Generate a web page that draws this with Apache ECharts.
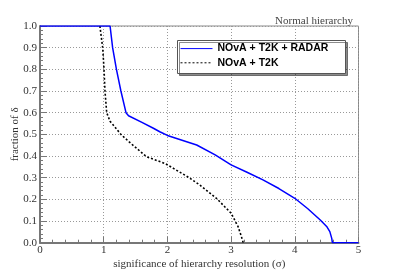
<!DOCTYPE html>
<html><head><meta charset="utf-8">
<script src="https://cdn.jsdelivr.net/npm/echarts@6/dist/echarts.min.js"></script>
<style>html,body{margin:0;padding:0;background:#fff}#c{width:399px;height:270px}</style>
</head><body><div id="c"></div>
<script>
const blueX = [0, 1.10, 1.14, 1.20, 1.27, 1.35, 1.39, 1.60, 1.78, 1.88, 2.00, 2.46, 2.75, 3.00, 3.25, 3.50, 3.75, 4.00, 4.20, 4.40, 4.50, 4.55, 4.58, 4.59, 5.00];
const blueY = [1.0, 1.0, 0.9, 0.8, 0.7, 0.6, 0.586, 0.555, 0.528, 0.512, 0.495, 0.451, 0.405, 0.359, 0.325, 0.29, 0.25, 0.205, 0.158, 0.105, 0.075, 0.051, 0.02, 0.0, 0.0];
const blackX = [0.94, 0.984, 1.005, 1.02, 1.047, 1.10, 1.15, 1.20, 1.27, 1.40, 1.67, 1.96, 2.10, 2.33, 2.51, 2.77, 3.00, 3.11, 3.16, 3.19];
const blackY = [1.0, 0.9, 0.8, 0.7, 0.6, 0.56, 0.543, 0.525, 0.50, 0.465, 0.397, 0.366, 0.342, 0.302, 0.266, 0.205, 0.136, 0.074, 0.03, 0.0];
const seriesNames = ['NOvA + T2K + RADAR', 'NOvA + T2K'];
const titleText = 'Normal hierarchy';
const xName = 'significance of hierarchy resolution (σ)';
const yName = 'fraction of δ';

const chart = echarts.init(document.getElementById('c'), null, {renderer: 'canvas'});
const serif = 'Liberation Serif';
const zip = (a, b) => a.map((v, i) => [v, b[i]]);
chart.setOption({
  animation: false,
  backgroundColor: '#fff',
  title: {
    text: titleText, right: 41, top: 11,
    textStyle: {fontFamily: serif, fontSize: 11, fontWeight: 'normal', color: '#444'}
  },
  grid: {left: 40, right: 40.5, top: 26, bottom: 27.3, containLabel: false, outerBoundsMode: 'none', show: true, borderColor: '#888', borderWidth: 1},
  xAxis: {
    type: 'value', min: 0, max: 5, interval: 1,
    name: xName, nameLocation: 'middle', nameGap: 16, nameMoveOverlap: false,
    nameTextStyle: {fontFamily: serif, fontSize: 11, color: '#333'},
    axisLine: {show: true, onZero: false, lineStyle: {color: '#777', width: 2}},
    axisTick: {show: true, inside: true, length: 6, lineStyle: {color: '#777'}},
    minorTick: {show: true, splitNumber: 5, length: 3, lineStyle: {color: '#777'}},
    axisLabel: {fontFamily: serif, fontSize: 11, color: '#333', margin: 2},
    splitLine: {show: true, lineStyle: {color: '#999', type: [1, 2], width: 1}}
  },
  yAxis: {
    type: 'value', min: 0, max: 1, interval: 0.1,
    name: yName, nameLocation: 'middle', nameGap: 19, nameMoveOverlap: false,
    nameTextStyle: {fontFamily: serif, fontSize: 11, color: '#333'},
    axisLine: {show: true, onZero: false, lineStyle: {color: '#777', width: 2}},
    axisTick: {show: true, inside: true, length: 7, lineStyle: {color: '#777'}},
    minorTick: {show: true, splitNumber: 5, length: 3, lineStyle: {color: '#777'}},
    axisLabel: {fontFamily: serif, fontSize: 11, color: '#333', margin: 3, formatter: v => v.toFixed(1)},
    splitLine: {show: true, lineStyle: {color: '#999', type: [1, 2], width: 1}}
  },
  graphic: [{
    type: 'rect', z: 3, left: 177, top: 40,
    shape: {width: 168, height: 33},
    style: {fill: '#fff', stroke: '#555', lineWidth: 1, shadowColor: 'rgba(0,0,0,0.45)', shadowOffsetX: 2, shadowOffsetY: 2, shadowBlur: 0}
  }],
  legend: {
    z: 6, orient: 'vertical', left: 177, top: 41, padding: [2, 2, 2, 3],
    itemWidth: 32, itemHeight: 14, itemGap: 3,
    itemStyle: {color: 'transparent', borderWidth: 0, opacity: 0},
    lineStyle: {width: 1},
    textStyle: {fontFamily: 'Liberation Sans', fontWeight: 'bold', fontSize: 10.5, color: '#000', padding: [0, 0, 0, 0]},
    data: seriesNames
  },
  series: [
    {name: seriesNames[0], type: 'line', data: zip(blueX, blueY), showSymbol: false, symbol: 'none', z: 5,
     lineStyle: {color: '#0000ff', width: 1.5}, itemStyle: {color: '#0000ff'}},
    {name: seriesNames[1], type: 'line', data: zip(blackX, blackY), showSymbol: false, symbol: 'none', z: 4,
     lineStyle: {color: '#000', width: 1.6, type: [2, 2]}, itemStyle: {color: '#000'}}
  ]
});
</script></body></html>
